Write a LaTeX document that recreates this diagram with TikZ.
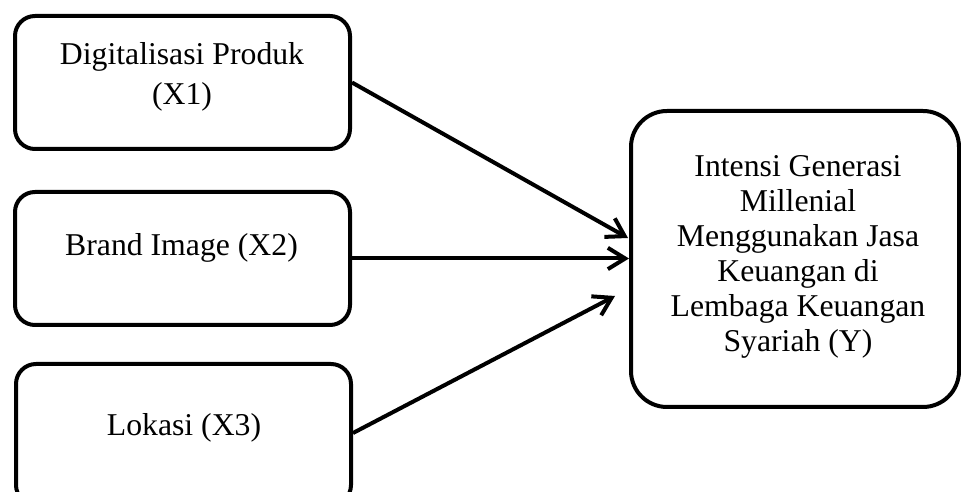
\documentclass[tikz,border=0pt]{standalone}
\usepackage{fontspec}
\setmainfont{Liberation Serif}
\usetikzlibrary{arrows.meta,calc,positioning}

\tikzset{
  kotak/.style={draw=black,line width=3pt,rounded corners=15pt,minimum width=251.25pt,minimum height=99.75pt,inner sep=0pt},
  teks/.style={anchor=base,align=center,inner sep=0pt,font=\fontsize{23.8}{30}\selectfont},
  panah/.style={line width=3pt,-{Straight Barb[length=13pt,width=16pt]}}
}

\begin{document}
\begin{tikzpicture}[x=0.75pt,y=0.75pt]
\useasboundingbox (0,0) rectangle (961,492);
%Variabel X (links), Y (rechts)
\node[kotak] (x1) at (182.5,409.5) {};
\node[kotak] (x2) at (182.5,233.5) {};
\node[kotak,minimum height=105.75pt] (x3) at (183.5,57.5) {};
\node[kotak,minimum width=246pt,minimum height=222pt,rounded corners=27pt] (y) at (795,233) {};
%Beschriftung (base = letzte Zeile)
\node[teks] (t1) at (182,387) {Digitalisasi Produk\\(X1)};
\node[teks] (t2) at (181.5,236) {Brand Image (X2)};
\node[teks] (t3) at (184,56) {Lokasi (X3)};
\node[teks,font=\fontsize{23.8}{26.25}\selectfont] (ty) at (798,140) {Intensi Generasi\\Millenial\\Menggunakan Jasa\\Keuangan di\\Lembaga Keuangan\\Syariah (Y)};
%Pfeile
\coordinate (u3) at ($(y.west)+(-14,-37)$);
\draw[panah] (x1.east) -- ($(y.west)+(-1,21)$);
\draw[panah] (x2.east) -- (x2.east -| y.west);
\draw[panah] ([yshift=1.1pt]x3.east) -- (u3);
\end{tikzpicture}
\end{document}
